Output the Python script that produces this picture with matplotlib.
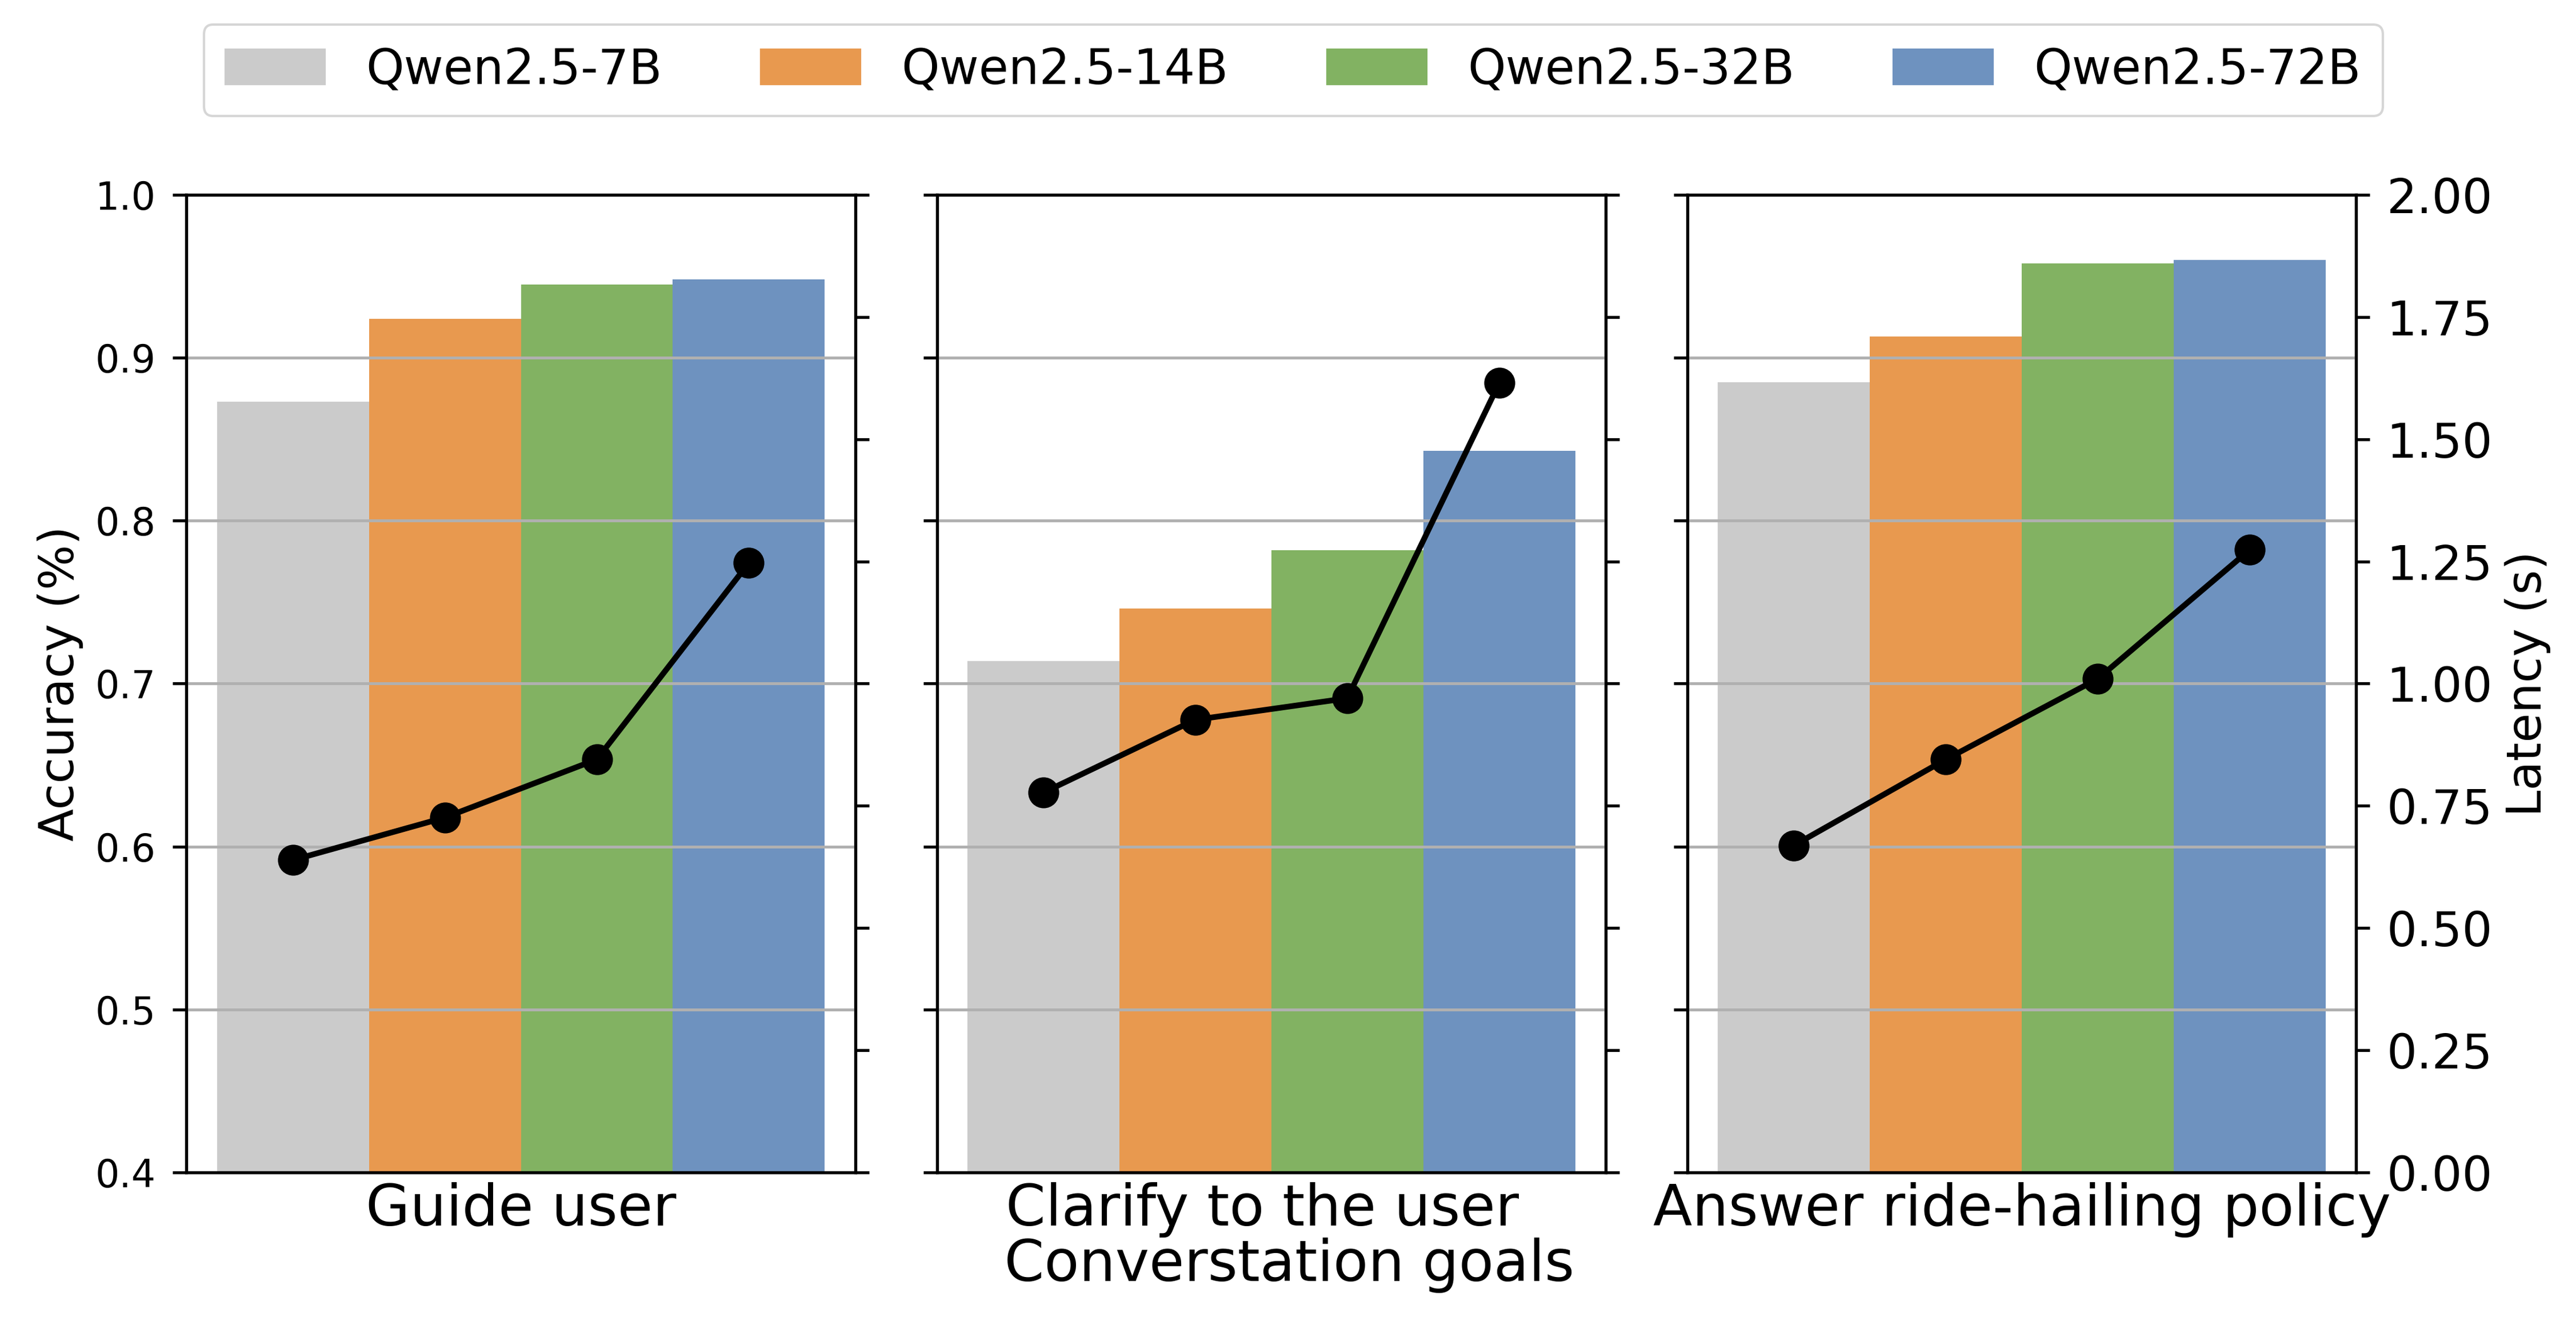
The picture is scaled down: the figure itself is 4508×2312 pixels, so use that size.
import matplotlib
matplotlib.use("Agg")
import matplotlib.pyplot as plt
import numpy as np

models = ["Qwen2.5-7B", "Qwen2.5-14B", "Qwen2.5-32B", "Qwen2.5-72B"]
colors = ["#CBCBCB", "#E8994F", "#82B262", "#6E92BF"]
tasks = ["Guide user", "Clarify to the user \n  Converstation goals", "Answer ride-hailing policy"]

acc_guide = [0.873, 0.924, 0.945, 0.948]
acc_clarify = [0.714, 0.746, 0.782, 0.843]
acc_answer = [0.885, 0.913, 0.958, 0.960]

lat_guide = [0.639, 0.726, 0.845, 1.247]
lat_clarify = [0.777, 0.926, 0.970, 1.615]
lat_answer = [0.669, 0.845, 1.010, 1.274]

accs = [acc_guide, acc_clarify, acc_answer]
lats = [lat_guide, lat_clarify, lat_answer]

acc_ticks = [0.4, 0.5, 0.6, 0.7, 0.8, 0.9, 1.0]
lat_ticks = [0.0, 0.25, 0.5, 0.75, 1.0, 1.25, 1.5, 1.75, 2.0]

fig = plt.figure(figsize=(4508 / 300, 2312 / 300), dpi=300)
lefts = [0.0724, 0.3637, 0.6551]
width = 0.2596
bottom = 0.1125
height = 0.7400

spine_lw = 1.25
tick_len = 5.8
tick_pad = 7
x = np.arange(len(models))

handles = [plt.Rectangle((0, 0), 1, 1, color=c) for c in colors]
for i in range(3):
    ax = fig.add_axes([lefts[i], bottom, width, height])
    ax.bar(x, accs[i], width=1.0, color=colors, zorder=1)
    ax.set_ylim(0.4, 1.0)
    ax.set_xlim(-0.7, 3.7)
    ax.set_yticks(acc_ticks)
    ax.yaxis.grid(True, color="#b0b0b0", linewidth=1.2)
    ax.set_axisbelow(False)
    ax.set_xticks([])
    ax.set_xlabel(tasks[i], fontsize=24, labelpad=4, linespacing=1.0)
    ax.tick_params(axis="y", labelsize=16, length=tick_len, width=spine_lw, pad=tick_pad)
    if i == 0:
        ax.set_ylabel("Accuracy (%)", fontsize=20, labelpad=5)
    else:
        ax.tick_params(axis="y", labelleft=False)
    for s in ax.spines.values():
        s.set_linewidth(spine_lw)

    axr = ax.twinx()
    axr.plot(x, lats[i], color="black", linewidth=2.4, marker="o", markersize=12, zorder=5)
    axr.set_ylim(0, 2.0)
    axr.set_yticks(lat_ticks)
    axr.tick_params(axis="y", labelsize=20, length=tick_len, width=spine_lw, pad=tick_pad)
    if i == 2:
        axr.set_ylabel("Latency (s)", fontsize=20, labelpad=5)
    else:
        axr.tick_params(axis="y", labelright=False)
    for s in axr.spines.values():
        s.set_linewidth(spine_lw)

fig.legend(handles, models, loc="upper center", bbox_to_anchor=(0.502, 0.9995),
           ncol=4, fontsize=20.3, frameon=True, columnspacing=2.05,
           handletextpad=0.85, handlelength=2.05, borderpad=0.45)

fig.savefig("out.png", dpi=300)
